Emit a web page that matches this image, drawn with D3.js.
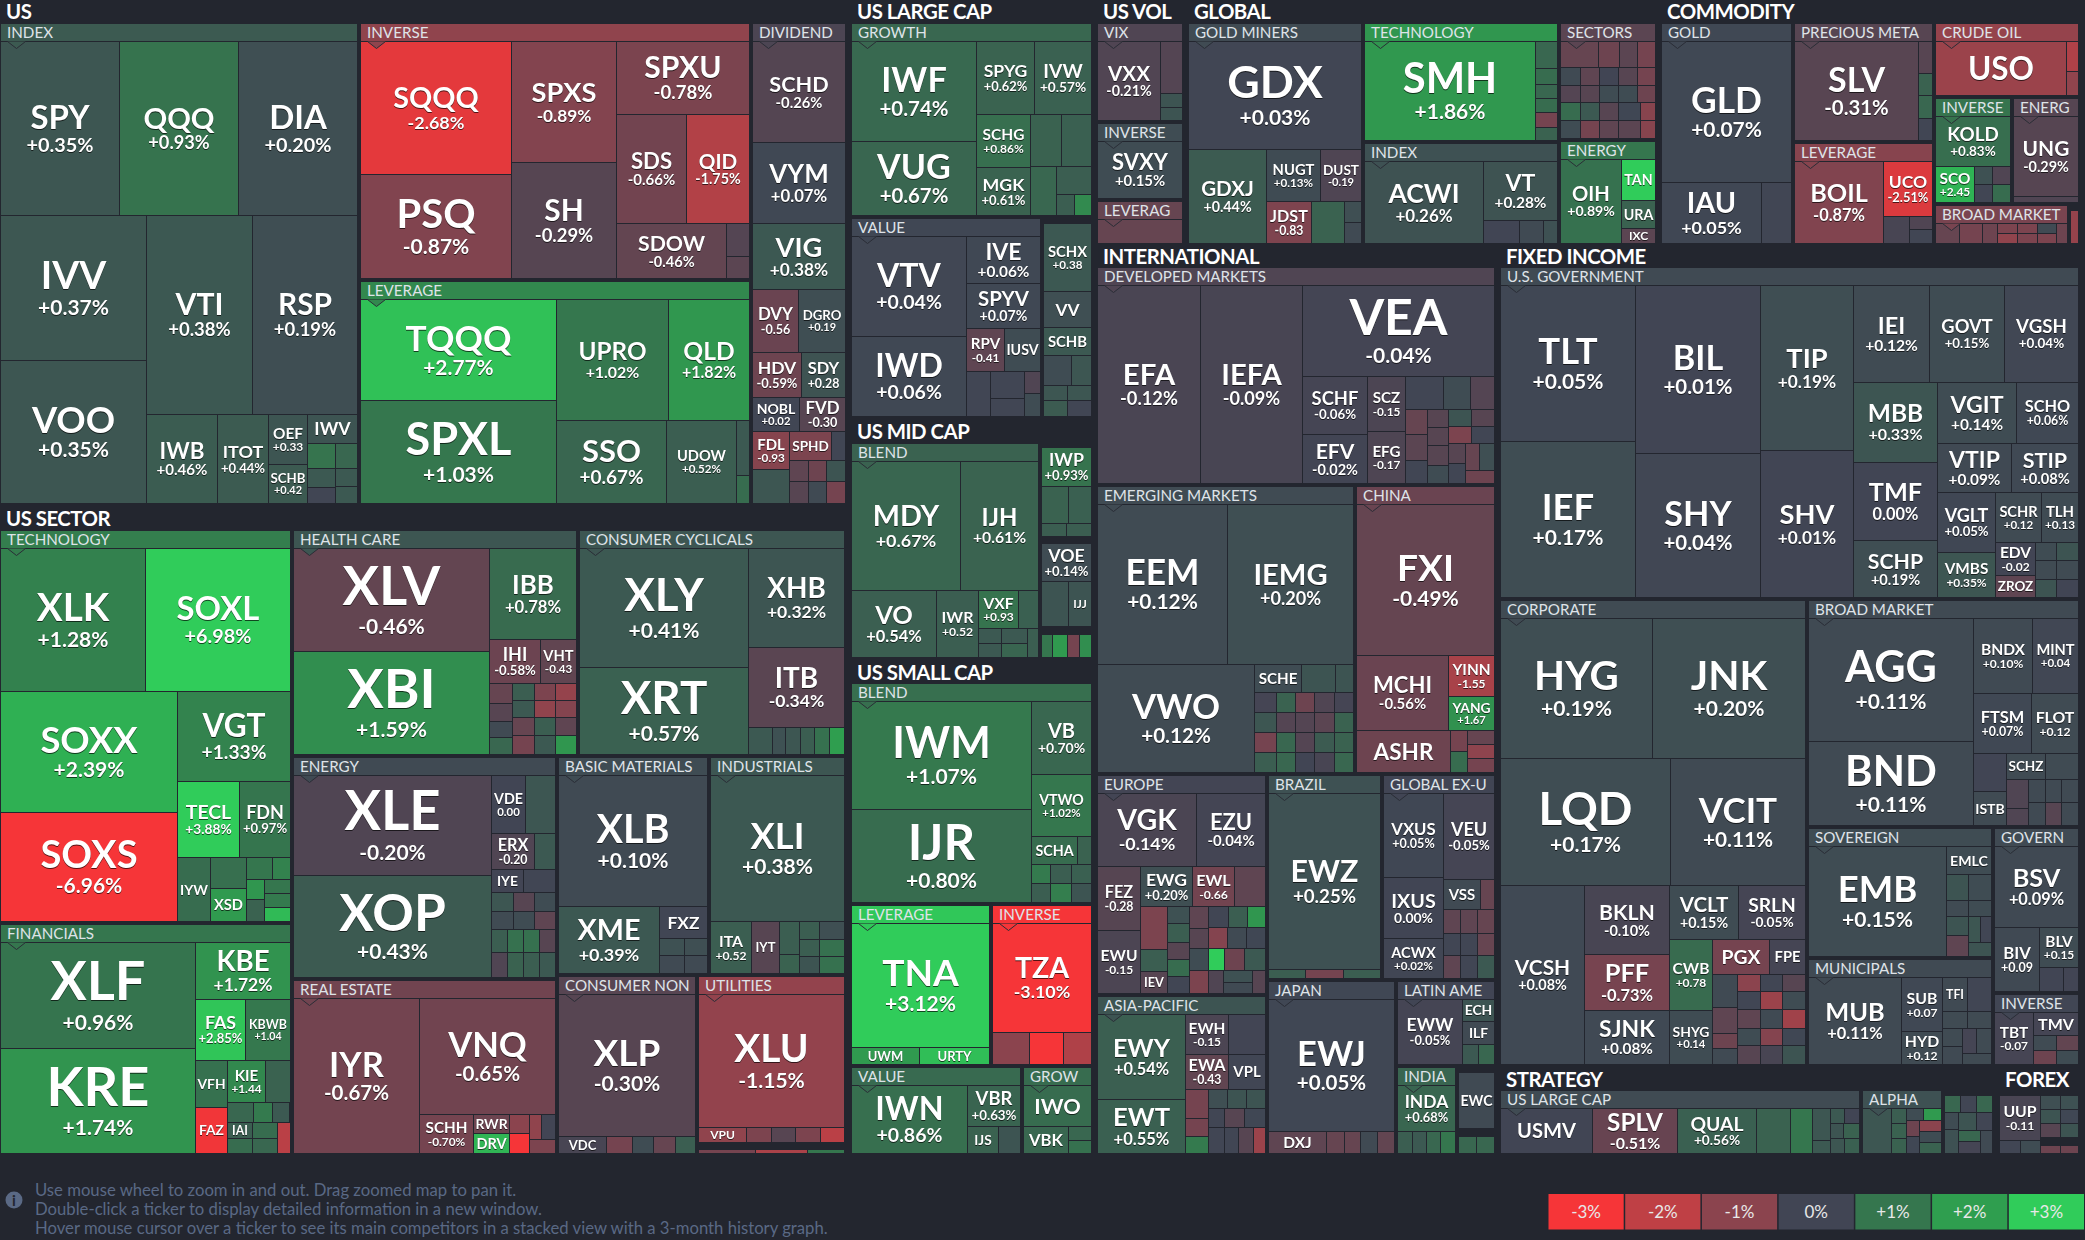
<!DOCTYPE html>
<html><head><meta charset="utf-8">
<script src="https://cdn.jsdelivr.net/npm/d3@7/dist/d3.min.js"></script>
<style>
html,body{margin:0;padding:0;background:#23262f;overflow:hidden}
svg{display:block}
text{font-family:Lato,"Open Sans",sans-serif}
</style></head><body><svg id="map" width="2085" height="1240"></svg>
<script>
// Leaf forms: ["TICKER", size, "+0.35%"]  ["TICKER", size, change]  [size, change]
const usIndex=[[["SPY",205,"+0.35%"],["QQQ",207,"+0.93%"],["DIA",205,"+0.20%"]],
 [[["IVV",209,"+0.37%"],["VOO",207,"+0.35%"]],
  [[["VTI",209,"+0.38%"],["RSP",207,"+0.19%"]],
   [["IWB",62,"+0.46%"],["ITOT",45,"+0.44%"],[["OEF",19,"+0.33"],["SCHB",15,"+0.42"]],
    [["IWV",14,.3],[[[7,.95],[5.3,.4],[4.5,.03]],[[5.5,.7],[4,.4],[3.7,.4]]]]]]]];
const usInverse=[[["SQQQ",198,"-2.68%"],["PSQ",155,"-0.87%"]],[["SPXS",126,"-0.89%"],["SH",120,"-0.29%"]],
 [["SPXU",96,"-0.78%"],[["SDS",75,"-0.66%"],["QID",68,"-1.75%"]],[["SDOW",60,"-0.46%"],[[7.4,-.25],[5,-.35]]]]];
const usLeverage=[[["TQQQ",194,"+2.77%"],["SPXL",198,"+1.03%"]],
 [[["UPRO",133,"+1.02%"],["QLD",97,"+1.82%"]],[["SSO",89,"+0.67%"],["UDOW",57,"+0.52%"],[[7,.4],[3.5,.8]]]]];
const usDividend=[["SCHD",91,"-0.26%"],["VYM",73,"+0.07%"],["VIG",59,"+0.38%"],[["DVY",28,"-0.56"],["DGRO",29,"+0.19"]],
 [["HDV",21,"-0.59%"],["SDY",19,"+0.28"]],[["NOBL",15.6,"+0.02"],["FVD",15.3,"-0.30"]],
 [[["FDL",13.7,"-0.93"],[12.2,.35]],[[["SPHD",11.6,-.8],[4,.02]],[[[3.9,-.4],[3.9,-.3]],[[3.9,-.6],[3.9,.1]],[[3.9,.3],[3.9,-.7]]]]]];
const secTech=[[["XLK",204,"+1.28%"],["SOXL",204,"+6.98%"]],
 [[["SOXX",210,"+2.39%"],["SOXS",190,"-6.96%"]],
  [["VGT",100,"+1.33%"],[["TECL",47,"+3.88%"],["FDN",38,"+0.97%"]],
   [["IYW",21,.8],[[11,.85],["XSD",11.5,1.9]],
    [[[5.5,1],[3.8,1.3]],[[[3.6,1.8],[4,.6]],[[3.6,1],[3.4,1.1],[3.6,2.6]]]]]]]];
const secFin=[[["XLF",200,"+0.96%"],["KRE",197,"+1.74%"]],
 [["KBE",52,"+1.72%"],[["FAS",30,"+2.85%"],["KBWB",26,"+1.04"]],
  [[["VFH",15,.9],["FAZ",14.5,-2.9]],
   [[["KIE",15.6,"+1.44"],[10,.6]],
    [[4.8,.7],[3.6,1.1],[3.4,.4]],
    [[["IAI",4,.5],[3.5,.8]],[[4,.8],[3.6,.7]],[3.7,-1.9]]]]]];
const secHealth=[[["XLV",198,"-0.46%"],["XBI",198,"+1.59%"]],
 [["IBB",77,"+0.78%"],[["IHI",21.5,"-0.58%"],["VHT",15.5,"-0.43"]],
  [[[4.6,-.5],[3.9,-.3],[3.6,.1],[3.9,.7]],[[3.6,.5],[3.6,.4],[3.6,-.5],[4,-.7]],
   [[3.6,-.8],[3.6,-1.1],[3.6,.5],[4,.4]],[[3.6,-1.2],[3.6,-.9],[3.6,-.4],[4,1.8]]]]];
const secCyc=[[["XLY",197,"+0.41%"],["XRT",145,"+0.57%"]],
 [["XHB",93,"+0.32%"],["ITB",76,"-0.34%"],[[6.2,.4],[3.5,.25],[3.9,.35],[3.9,.5],[3.9,.9],[3.9,2]]]];
const secEnergy=[[["XLE",195,"-0.20%"],["XOP",197,"+0.43%"]],
 [[["VDE",19,"0.00"],[17,.35]],[["ERX",15,"-0.20"],[7.5,.4]],[["IYE",7,-.02],[7,.02]],
  [[4,.35],[3.8,-.3],[3.8,.15]],[[3.7,.12],[3.7,.15],[3.7,-.4]],
  [[[3.6,.5],[3.9,-.2]],[[3.6,.9],[3.9,.6]],[[3.6,.9],[3.9,.5]],[[3.6,-.3],[3.9,.4]]]]];
const secBasic=[["XLB",192,"+0.10%"],[["XME",66,"+0.39%"],[["FXZ",15,.03],[[[4.3,.25],[4.3,.1]],[[4,.2],[4,.1]]]]]];
const secIndust=[["XLI",193,"+0.38%"],[["ITA",21,"+0.52"],["IYT",14,-.3],[[6.6,.5],[3.8,.6]],
 [[[3.4,.5],[4.2,.2]],[[3.4,.5],[4.2,.9]],[[3.4,.3],[4.2,.9]]]]];
const secReal=[["IYR",191,"-0.67%"],[["VNQ",154,"-0.65%"],[["SCHH",21,"-0.70%"],[["RWR",7,-.6],["DRV",7,2.5]],[[3.6,-1],[3.8,-3]],
 [[[3.1,-1.1],[3.6,-.02]],[3.5,-.8]]]]];
const secNon=[["XLP",190,"-0.30%"],[["VDC",8,-.1],[4.3,-.7],[3.6,.15],[3.6,-.5],[3.3,.5]]];
const secUtil=[["XLU",189,"-1.15%"],[["VPU",7.2,-1.1],[3.6,-.8],[3.6,-.3],[3.6,-.8],[3.6,-1.9]]];
const secStrip=[[55,-.7],[50,-1.6],[36,1]];
const lcGrowth=[[["IWF",123,"+0.74%"],["VUG",92,"+0.67%"]],
 [[["SPYG",42,"+0.62%"],["IVW",41,"+0.57%"]],
  [[["SCHG",28,"+0.86%"],["MGK",25.6,"+0.61%"]],
   [[[15.5,.6],[15,.55]],[[12.5,.7],[[9.8,.5],[[3.6,.5],[3.6,1.5]]]]]]]];
const lcValue=[[["VTV",112,"+0.04%"],["IWD",90,"+0.06%"]],
 [["IVE",34,"+0.06%"],["SPYV",33,"+0.07%"],[["RPV",16,"-0.41"],["IUSV",15,.15]],
  [[10.6,.02],[[9.2,.02],[6,.02]],[[3.5,-.2],[3.7,.15]]]]];
const lcStack=[["SCHX",31,"+0.38"],["VV",16,.2],["SCHB",12.7,.4],[[8.1,.15],[5.7,.35]],[[3.2,.35],[3.2,.35]],[[3.7,.45],[3.7,.02]]];
const mcBlend=[[["MDY",137,"+0.67%"],["IJH",98,"+0.61%"]],
 [["VO",55,"+0.54%"],["IWR",27.5,"+0.52"],
  [[["VXF",15,"+0.93"],[7.4,.55]],[[[3.4,.4],[3.2,.4]],[[3.6,.4],[3.4,.65]],[3.2,.5]]]]];
const mcIwp=[["IWP",18,"+0.93%"],[[9.4,.6],[8,.55]],[[3.1,.5],[3.1,.5]]];
const mcVoe=[["VOE",18,"+0.14%"],[[11.5,.3],["IJJ",9.7,.3]]];
const mcStrip=[[10,1],[12.7,1.9],[10.3,-.7],[10.7,1.6]];
const scBlend=[[["IWM",190,"+1.07%"],["IJR",164,"+0.80%"]],
 [["VB",43,"+0.70%"],["VTWO",36,"+1.02%"],[["SCHA",12.6,.8],[3.9,.6]],[[3.6,1.1],[3.8,.5],[3.8,.55]],[[3.6,.5],[3.8,1.2],[3.8,.3]]]];
const scLev=[["TNA",168,"+3.12%"],[["UWM",11.5,1.9],["URTY",11.7,2.7]]];
const scInv=[["TZA",106,"-3.10%"],[[11.5,-1],[10.5,-3],[8.6,-1.7]]];
const scValue=[["IWN",76,"+0.86%"],[["VBR",21,"+0.63%"],[["IJS",8.3,.6],[5.7,.3]]]];
const scGrow=[["IWO",26,.8],[["VBK",11.2,.7],[[3,.7],[2.8,.9]]]];
const volVix=[["VXX",49,"-0.21%"],[[11,-.25],[2.8,.3],[2.8,.3]]];
const volInv=[["SVXY",47,"+0.15%"]];
const volLev=[[18,-.5]];
const glMiners=[["GDX",182,"+0.03%"],[["GDXJ",72,"+0.44%"],[[["NUGT",27.5,"+0.13%"],["DUST",21,"-0.19"]],
 [["JDST",18,"-0.83"],[13.5,.6],[[3.4,.2],[3.6,.1]]]]]];
const glTech=[["SMH",166,"+1.86%"],[[5.8,.7],[3.5,.8],[3,.7],[2.9,.8],[3.2,-.7],[2.9,.6]]];
const glIndex=[["ACWI",95,"+0.26%"],[["VT",42,"+0.28%"],[[8,0],[5.3,.1],[3.2,.25]]]];
const glSectors=[[[9.7,-.5],[5.1,-.6],[4.6,-.35],[4.6,-.7]],[[3.4,.1],[3.2,-.4],[3.2,0],[3.2,-.3],[3,-.7]],
 [[3.4,-.25],[3.2,-.3],[3.2,.15],[3.2,.15],[3,-.6]],[[3.4,.8],[3.2,.4],[3.2,-.3],[3.6,.05],[2.6,-.95]],[[3.4,.15],[3.2,-.7],[3.2,-.4],[3.6,-.35],[2.6,-.95]]];
const glEnergy=[["OIH",50,"+0.89%"],[["TAN",13.6,3.5],["URA",9.2,.6],["IXC",5,-.35]]];
const cmGold=[["GLD",180,"+0.07%"],[["IAU",60,"+0.05%"],[17.7,.03]]];
const cmMetal=[["SLV",121,"-0.31%"],[[4.3,-.3],[3,.6],[3,.7],[3,.03]]];
const cmLev=[["BOIL",71,"-0.87%"],[["UCO",26,"-2.51%"],[[6.8,-.1],[[3,-.2],[3,.03]]]]];
const cmCrude=[["USO",70,-1.3],[[3.5,-1.7],[2.9,-1.1]]];
const cmInv=[["KOLD",36,"+0.83%"],[["SCO",13.3,"+2.45"],[[3,.25],[3,.03]],[[3,-.2],[3,.8]]]];
const cmEnerg=[["UNG",50.6,"-0.29%"],[3.2,-.2]];
const cmBroad=[[4.6,-.5],[4.2,-.7],[2.8,-.6],[[1.9,-.8],[1.9,-1.1]],[[1.9,-.8],[1.9,-.8]],[[1.8,.1],[1.8,-.8]],[2,-.6]];
const cmSliver=[[1,-1.2]];
const inDev=[["EFA",200,"-0.12%"],["IEFA",198,"-0.09%"],
 [["VEA",170,"-0.04%"],[[["SCHF",37,"-0.06%"],["EFV",31,"-0.02%"]],[["SCZ",21,"-0.15"],["EFG",20,"-0.17"]],
  [[[12.5,.03],[8.6,.15],[8,-.25]],
   [[[5.3,-.5],[5.7,-.35],[5,.03]],[[3.6,-.3],[3.8,-.3],[4,-.3],[3.8,.15]],
    [[[3.7,.3],[3.9,-.3]],[[3.7,-.8],[3.9,.02]],[[[3.2,-.3],[3.2,.02]],[[[3.9,-.5],[3.9,.2]],[3.8,-.6]]]]]]]]];
const inEmerging=[[["EEM",204,"+0.12%"],["IEMG",198,"+0.20%"]],
 [["VWO",167,"+0.12%"],[[["SCHE",13,.15],[9.5,.3],[5,.3]],
  [[[4.4,-.05],[4.4,.35],[4.4,-.7],[4.4,.5]],[[3.8,.6],[3.8,-.25],[3.8,.7],[3.8,.7]],[[3.8,-.6],[3.8,-.25],[3.8,-.25],[3.8,0]],
   [[3.8,-.2],[3.8,-.35],[3.8,.45],[3.8,-.1]],[[3.8,-.05],[3.8,.6],[3.8,.6],[3.8,.7]]]]]];
const inChina=[["FXI",204,"-0.49%"],[["MCHI",68,"-0.56%"],[["YINN",18.5,"-1.55"],["YANG",15,"+1.67"]]],
 [["ASHR",39,-.6],[[3.6,-.7],[3.6,.8]],[[3.8,-.5],[3.6,-1.05],[3.8,-.7]]]];
const inEurope=[[["VGK",68,"-0.14%"],["EZU",47,"-0.04%"]],
 [[["FEZ",26.7,"-0.28"],["EWU",26,"-0.15"]],
  [[["EWG",20,"+0.20%"],["EWL",16,"-0.66"],[12,-.4]],
   [[[11,-.8],[5.7,.5],["IEV",5.7,-.3]],[[3.6,.25],[3.8,.5],[3.6,-.3],[3.6,.8],[3.6,.03]],[[3.8,-.4],[3.6,-.3],[3.9,.15],[4.1,-.8]],
    [[[4,.03],[3.6,.5],[3.6,1.8]],[[3.8,-.9],[3.8,.1],[3.8,.05]],[[3.4,3.5],[4.2,-.6],[4.4,.4]],[[3.4,-.2],[[3.2,.25],[3.2,.1]],[2.8,-.3]]]]]]];
const inAsia=[[["EWY",71,"+0.54%"],["EWT",45,"+0.55%"]],
 [[["EWH",16.3,"-0.15"],[14,-.02]],[["EWA",14,"-0.43"],["VPL",12,.02]],
  [[[6.4,-.7],[3.8,-.7],[3.8,1.1]],[[[3.5,.2],[3.5,.3],[3.5,.3]],[[2.7,.03],[3.6,-.3],[3.6,.05]],[[4,.02],[3.4,.02],[3.6,-.3],[3.1,-1.3]]]]]];
const inBrazil=[["EWZ",192,"+0.25%"],[[3.6,.5],[3.6,-.7],[3.6,.5]]];
const inGlobal=[[["VXUS",48,"+0.05%"],["IXUS",35.4,"0.00%"],["ACWX",23,"+0.02%"]],
 [["VEU",41,"-0.05%"],[["VSS",10.5,.1],[4.2,-.5]],[[3.7,-.4],[3.7,-.4],[3.9,-.5]],[[3.5,.02],[3.5,.02],[3.7,-.5]],[[3.7,-.4],[3.7,.02],[3.9,.4]]]];
const inJapan=[["EWJ",162,"+0.05%"],[["DXJ",12.3,-.4],[3.7,-.5],[3.5,-.5],[3.7,.1],[3.5,-.45]]];
const inLatin=[["EWW",40,"-0.05%"],[["ECH",6.4,.3],["ILF",7,.1],[[3.1,.4],[3.1,.7]]]];
const inIndia=[["INDA",25,"+0.68%"],[[3,.5],[3,.4],[2.8,.7],[3.2,1]]];
const inEwc=[["EWC",19,.1]];
const inEwcStrip=[[1,.7],[1,.7]];
const fiGov=[[["TLT",206,"+0.05%"],["IEF",206,"+0.17%"]],[["BIL",207,"+0.01%"],["SHY",177,"+0.04%"]],[["TIP",151,"+0.19%"],["SHV",134,"+0.01%"]],
 [[["IEI",72,"+0.12%"],["GOVT",71,"+0.15%"],["VGSH",70,"+0.04%"]],
  [[["MBB",66,"+0.33%"],["TMF",64,"0.00%"],["SCHP",46.5,"+0.19%"]],
   [[["VGIT",47,"+0.14%"],["SCHO",37,"+0.06%"]],[["VTIP",36,"+0.09%"],["STIP",33,"+0.08%"]],
    [[["VGLT",33.6,"+0.05%"],["VMBS",25.6,"+0.35%"]],
     [[["SCHR",22,"+0.12"],["TLH",18,"+0.13"]],[[["EDV",13,"-0.02"],["ZROZ",8.8,-.4]],[[3.8,.15],[3.8,.12],[3.8,.3]],[[4,.3],[4,.12],[4,0]]]]]]]]];
const fiCorp=[[["HYG",208,"+0.19%"],["JNK",210,"+0.20%"]],[["LQD",210,"+0.17%"],["VCIT",166,"+0.11%"]],
 [["VCSH",147,"+0.08%"],[["BKLN",58,"-0.10%"],["PFF",46,"-0.73%"],["SJNK",45,"+0.08%"]],
  [[["VCLT",37,"+0.15%"],["SRLN",36,"-0.05%"]],
   [[["CWB",30,"+0.78"],["SHYG",23,"+0.14"]],
    [[["PGX",19,-.7],["FPE",12,-.05]],
     [[[8,.1],[6.3,-.4],[3.8,-.6],[3.8,.1]],[[3.9,-1],[3.9,.03],[4.1,-.4],[3.9,.15],[4.1,-.3]],
      [[3.9,.03],[3.9,-1.3],[4.1,.1],[3.9,-.9],[4.1,-.1]],[[3.9,-.3],[3.9,.15],[4.1,-1.4],[3.9,.05],[4.1,.3]]]]]]]];
const fiBroad=[[["AGG",198,"+0.11%"],["BND",136,"+0.11%"]],
 [[["BNDX",43,"+0.10%"],["MINT",34,"+0.04"]],[["FTSM",34,"+0.07%"],["FLOT",28,"+0.12"]],
  [[[12,0],["ISTB",11,.12]],[[["SCHZ",10,.12],[8.3,.12]],[[[6.4,-.2],[3.8,-.2]],[[3.7,.1],[3.7,.1]],[[3.7,.1],[3.7,-.3]],[[3.7,.1],[3.7,.1]]]]]]];
const fiSov=[["EMB",149,"+0.15%"],[["EMLC",12.4,.15],[[5.8,.3],[5.8,.15]],[[3.6,.12],[3.6,.15]],
 [[[4.3,.3],[4.5,-.4]],[[[3,.35],[2.9,.02]],[3,.3]]]]];
const fiMuni=[["MUB",78,"+0.11%"],[["SUB",21,"+0.07"],["HYD",13,"+0.12"]],
 [[["TFI",8,.1],[8,.02]],[[4,.12],[4,.12]],[[[3.3,.12],[3.4,.1]],[[[3.4,-.05],[3.4,.12]],[3.2,.12]]]]];
const fiGovern=[["BSV",66,"+0.09%"],[["BIV",28,"+0.09"],[["BLV",15,"+0.15"],[[5.3,0],[3.4,-.02]]]]];
const fiInverse=[["TBT",19,"-0.07"],[["TMV",9.6,-.05],[[3.2,.12],[3.1,-.45]],[[3,-.6],[3,.15]]]];
const stLarge=[["USMV",40.5,0],["SPLV",37,"-0.51%"],["QUAL",35,"+0.56%"],[15,.6],[9.5,1],[[5.5,.35],[2.2,.4]],
 [[[2,.4],[2.2,0]],[[2.1,.3],[2.4,.6]],[[2,.35],[2.2,.55]]]];
const stAlpha=[[12.2,.35],[[2,.5],[2,.6],[2,.6]],[[[1.9,.15],[1.9,1.9]],[[[2,-.6],[2.1,.05]],[[2.2,-1],[2.2,.15],[2.2,.6]]]]];
const stOther=[[[2.4,.7],[2.2,.02],[2.4,.7]],[[[1.9,.15],[2.8,.25]],[[[2.7,.3],[2.4,.02]],[[[2.2,.7],[2.3,-.05]],[2.4,.1]]]]];
const fxUup=[[["UUP",16.3,"-0.11"],[[2.3,.02],[2.2,.15]]],
 [[[2.3,.2],[2.1,.25]],[[2.5,.3],[2.3,.05]],[[2.3,-.3],[2.1,.3]],[2.5,null],[[1.4,-.6],[1.3,-.6]]]];

const legendSteps=[-3,-2,-1,0,1,2,3];
const legendLabels=["-3%","-2%","-1%","0%","+1%","+2%","+3%"];
const stepColors=["#f63538","#bf4045","#8b444e","#414554","#35764e","#2f9e4f","#30cc5a"];
const footerLines=["Use mouse wheel to zoom in and out. Drag zoomed map to pan it.",
 "Double-click a ticker to display detailed information in a new window.",
 "Hover mouse cursor over a ticker to see its main competitors in a stacked view with a 3-month history graph."];

// tree builders
const S=(weight,dir,kids,title,pad,dy)=>({weight,dir,kids,title,pad,dy});
const G=(name,change,weight,kids,dir)=>({name,change,weight,kids,dir,group:true});
const U=(weight,kids,dir,flush)=>({weight,kids,dir,unnamed:true,flush});
const GAP=weight=>({weight,gap:true});

const mapTree=S(2081,'h',[
 S(851,'v',[
  S(505,'h',[G("INDEX",.42,360,usIndex,'v'),
   S(392,'v',[G("INVERSE",-1.1,258,usInverse,'h'),G("LEVERAGE",1.45,225,usLeverage,'h')]),
   G("DIVIDEND",-.15,96,usDividend,'v'),GAP(3)],"US",22),
  S(650,'h',[
   S(292.5,'v',[G("TECHNOLOGY",1.2,394,secTech,'v'),G("FINANCIALS",1,232,secFin,'h')]),
   S(554.5,'v',[
    S(227,'h',[G("HEALTH CARE",.35,286.5,secHealth,'h'),G("CONSUMER CYCLICALS",.35,268,secCyc,'h')]),
    S(399,'h',[
     S(265.5,'v',[G("ENERGY",.1,223,secEnergy,'h'),G("REAL ESTATE",-.65,176,secReal,'h')]),
     S(289,'v',[
      S(219,'h',[G("BASIC MATERIALS",.15,152,secBasic,'v'),G("INDUSTRIALS",.35,137,secIndust,'v')]),
      S(180,'h',[G("CONSUMER NON",-.3,139.5,secNon,'v'),
       S(149.5,'v',[G("UTILITIES",-1.15,169.5,secUtil,'v'),GAP(5.5),U(5.5,secStrip,'h',true)])])])])]),
   GAP(4)],"US SECTOR",24)]),
 S(246,'h',[
  S(243,'v',[
   S(418,'v',[G("GROWTH",.7,195,lcGrowth,'h'),
    S(201,'h',[G("VALUE",.05,192,lcValue,'h'),S(51,'v',[GAP(4.5),U(196.5,lcStack,'v')])])],"US LARGE CAP",22),
   S(240.5,'h',[G("BLEND",.6,190,mcBlend,'v'),
    S(53,'v',[GAP(4.5),U(92,mcIwp,'v'),GAP(4),U(86,mcVoe,'v'),GAP(5),U(25.5,mcStrip,'h')])],"US MID CAP",23.5),
   S(496.5,'v',[G("BLEND",.85,222,scBlend,'h'),
    S(162,'h',[G("LEVERAGE",2.9,141,scLev,'v'),G("INVERSE",-3,102,scInv,'v')]),
    S(89,'h',[G("VALUE",.75,172,scValue,'h'),G("GROW",.8,71,scGrow,'v')])],"US SMALL CAP",23.5,1)]),
  GAP(3)]),
 S(984,'v',[
  S(245,'h',[
   S(88,'v',[G("VIX",-.2,100,volVix,'h'),G("INVERSE",.15,78,volInv,'v'),G("LEVERAG",-.5,45,volLev,'v')],"US VOL",22),
   GAP(3),
   S(470,'h',[G("GOLD MINERS",.12,176,glMiners,'v'),
    S(196,'v',[G("TECHNOLOGY",1.8,120,glTech,'h'),G("INDEX",.25,103,glIndex,'h')]),
    S(98,'v',[G("SECTORS",-.35,117.5,glSectors,'v'),G("ENERGY",1,105.5,glEnergy,'h')])],"GLOBAL",22),
   GAP(3),
   S(420,'h',[G("GOLD",.06,133,cmGold,'v'),
    S(141,'v',[G("PRECIOUS META",-.3,120,cmMetal,'h'),G("LEVERAGE",-.95,103,cmLev,'h')]),
    S(146,'v',[G("CRUDE OIL",-1.2,75,cmCrude,'h'),
     S(106.5,'h',[G("INVERSE",.95,78,cmInv,'v'),G("ENERG",-.28,68,cmEnerg,'v')]),
     S(41.5,'h',[G("BROAD MARKET",-.75,135,cmBroad,'h'),S(11,'v',[GAP(5),U(36.5,cmSliver,'v')])])])],"COMMODITY",22)]),
  S(910,'h',[
   S(400,'v',[G("DEVELOPED MARKETS",-.2,219.4,inDev,'h'),
    S(289,'h',[G("EMERGING MARKETS",.12,259,inEmerging,'v'),G("CHINA",-.55,141,inChina,'v')]),
    S(380.6,'h',[
     S(171,'v',[G("EUROPE",-.03,221,inEurope,'v'),G("ASIA-PACIFIC",.3,159.6,inAsia,'h')]),
     S(229,'v',[
      S(206,'h',[G("BRAZIL",.25,115,inBrazil,'v'),G("GLOBAL EX-U",0,114,inGlobal,'h')]),
      S(174.6,'h',[G("JAPAN",.05,129,inJapan,'v'),
       S(100,'v',[G("LATIN AME",0,86,inLatin,'h'),
        S(88.6,'h',[G("INDIA",.65,61,inIndia,'v'),
         S(39,'v',[GAP(5),U(59,inEwc,'v'),GAP(5),U(19.6,inEwcStrip,'h')])])])])])])],"INTERNATIONAL",21,1),
   GAP(3),
   S(581,'v',[
    S(821,'v',[G("U.S. GOVERNMENT",.1,333,fiGov,'h'),
     S(467,'h',[G("CORPORATE",.12,308,fiCorp,'v'),
      S(273,'v',[G("BROAD MARKET",.1,228,fiBroad,'h'),
       S(239,'h',[
        S(186,'v',[G("SOVEREIGN",.15,130.5,fiSov,'h'),G("MUNICIPALS",.1,108.5,fiMuni,'h')]),
        S(87,'v',[G("GOVERN",.1,165.5,fiGovern,'v'),G("INVERSE",.03,73.5,fiInverse,'h')])])])])],"FIXED INCOME",21,1),
    S(89,'h',[
     S(499,'h',[G("US LARGE CAP",.12,362,stLarge,'h'),G("ALPHA",.25,82,stAlpha,'h'),
      S(51,'v',[GAP(5),U(61,stOther,'v')]),GAP(4)],"STRATEGY",23,1),
     S(82,'v',[GAP(5),U(61,fxUup,'h')],"FOREX",23,1)])])])])]);

const color=d3.scaleLinear().domain(legendSteps).range(stepColors).clamp(true);
const isLeaf=d=>Array.isArray(d)&&!Array.isArray(d[0]);
const root=d3.hierarchy(mapTree,d=>isLeaf(d)||d.gap?null:(Array.isArray(d)?d:d.kids));
root.eachAfter(n=>{const d=n.data;
 if(n.children) n.value=d.weight!==undefined?d.weight:d3.sum(n.children,c=>c.value);
 else if(d.gap) n.value=d.weight;
 else n.value=typeof d[0]==='string'?d[1]:d[0];});
root.eachBefore(n=>{n.dirH=n.data.dir?n.data.dir==='h':(n.parent?!n.parent.dirH:true);});
const tile=(node,x0,y0,x1,y1)=>{const v=node.value;node.value=d3.sum(node.children,c=>c.value);
 (node.dirH?d3.treemapDice:d3.treemapSlice)(node,x0,y0,x1,y1);node.value=v;};
const boxed=d=>d.group||d.unnamed;
d3.treemap().tile(tile).size([2081,1155]).round(false)
 .paddingTop(n=>n.data.group?20:n.data.unnamed?(n.data.flush?0:2):(n.data.title?n.data.pad:0))
 .paddingLeft(n=>boxed(n.data)?2:0)
 .paddingRight(n=>boxed(n.data)?1:0)
 .paddingBottom(n=>boxed(n.data)?1:0)(root);

const svg=d3.select("#map");
const g=svg.append("g").attr("transform","translate(-1,0)");
const cells=g.append("g"),heads=g.append("g"),
 labels=g.append("g").style("filter","drop-shadow(0.6px 1.2px 0.4px rgba(0,0,0,.65))");
const leaves=root.leaves().filter(n=>!n.data.gap).map(n=>{const d=n.data,named=typeof d[0]==='string';
 const raw=named?d[2]:d[1];
 return {n,name:named?d[0]:"",label:typeof raw==='string'?raw:"",ch:typeof raw==='string'?parseFloat(raw):raw,
  x:Math.round(n.x0),y:Math.round(n.y0),w:Math.round(n.x1)-Math.round(n.x0)-1,h:Math.round(n.y1)-Math.round(n.y0)-1};});

cells.selectAll("rect").data(leaves.filter(l=>l.ch!==null)).join("rect")
 .attr("x",l=>l.x).attr("y",l=>l.y).attr("width",l=>Math.max(0,l.w)).attr("height",l=>Math.max(0,l.h))
 .attr("fill",l=>color(l.ch));

const ctx=document.createElement("canvas").getContext("2d");
const em=(t,weight)=>{ctx.font=weight+" 100px Lato";return ctx.measureText(t).width/100;};
leaves.filter(l=>l.name).forEach(l=>{
 const tw=em(l.name,700);
 let f=Math.min(Math.max(.22*l.w+7,.32*l.w-8),Math.min(.45*l.w+18,.92*l.w)/tw,.5*l.h+5);
 const cx=l.x+l.w/2,cy=l.y+l.h/2,cap=.72;
 const t=labels.append("text").attr("x",cx).attr("text-anchor","middle").attr("fill","#fff").attr("font-weight",700)
  .attr("font-size",f.toFixed(2)).text(l.name);
 if(l.label){
  const lf=Math.min(21,.45*f+5,.95*l.w/em(l.label,700));
  const gap=.26*f, total=f*cap+gap+lf*cap, top=cy-total/2;
  t.attr("y",top+f*cap);
  labels.append("text").attr("x",cx).attr("y",top+total).attr("text-anchor","middle").attr("fill","#fff")
   .attr("font-weight",700).attr("font-size",lf.toFixed(2)).text(l.label);
 } else t.attr("y",cy+f*cap/2);
});

root.descendants().filter(n=>n.data.group).forEach(n=>{
 const x=Math.round(n.x0)+2,y=Math.round(n.y0)+2,w=Math.round(n.x1)-2-x,c=color(n.data.change);
 heads.append("rect").attr("x",x).attr("y",y).attr("width",w).attr("height",17).attr("fill",c);
 heads.append("path").attr("d",`M${x+6.5} ${y+17.5}L${x+15.5} ${y+24.5}L${x+24.5} ${y+17.5}`)
  .attr("fill",c).attr("stroke","#2a2d36").attr("stroke-width",1);
 heads.append("text").attr("x",x+6).attr("y",y+14).attr("fill","#dfe3e8").attr("font-size",15.2).text(n.data.name);
});
root.descendants().filter(n=>n.data.title).forEach(n=>{
 heads.append("text").attr("x",n.x0+7).attr("y",n.y0+n.data.pad-3+(n.data.dy||0)).attr("fill","#fff").attr("font-weight",700)
  .attr("font-size",20.4).attr("letter-spacing",-.5).text(n.data.title);
});

// footer
const foot=svg.append("g");
foot.append("circle").attr("cx",14).attr("cy",1200).attr("r",8.5).attr("fill","#5a6985");
foot.append("text").attr("x",14).attr("y",1205.5).attr("text-anchor","middle").attr("fill","#23262f")
 .attr("font-weight",700).attr("font-size",15).attr("font-family","DejaVu Serif").text("i");
foot.selectAll("text.l").data(footerLines).join("text").attr("class","l").attr("x",35)
 .attr("y",(d,i)=>1196+i*18.9).attr("fill","#5a6985").attr("font-size",16.7).text(d=>d);
const band=d3.scaleBand().domain(legendSteps).range([1548.5,2084]).paddingInner(.02);
const lg=svg.append("g");
lg.selectAll("rect").data(legendSteps).join("rect").attr("x",d=>band(d)).attr("y",1194)
 .attr("width",band.bandwidth()).attr("height",35.5).attr("fill",d=>color(d));
lg.selectAll("text").data(legendSteps).join("text").attr("x",d=>band(d)+band.bandwidth()/2).attr("y",1218)
 .attr("text-anchor","middle").attr("fill","#e8e8e8").attr("font-size",17).text((d,i)=>legendLabels[i]);
</script></body></html>
